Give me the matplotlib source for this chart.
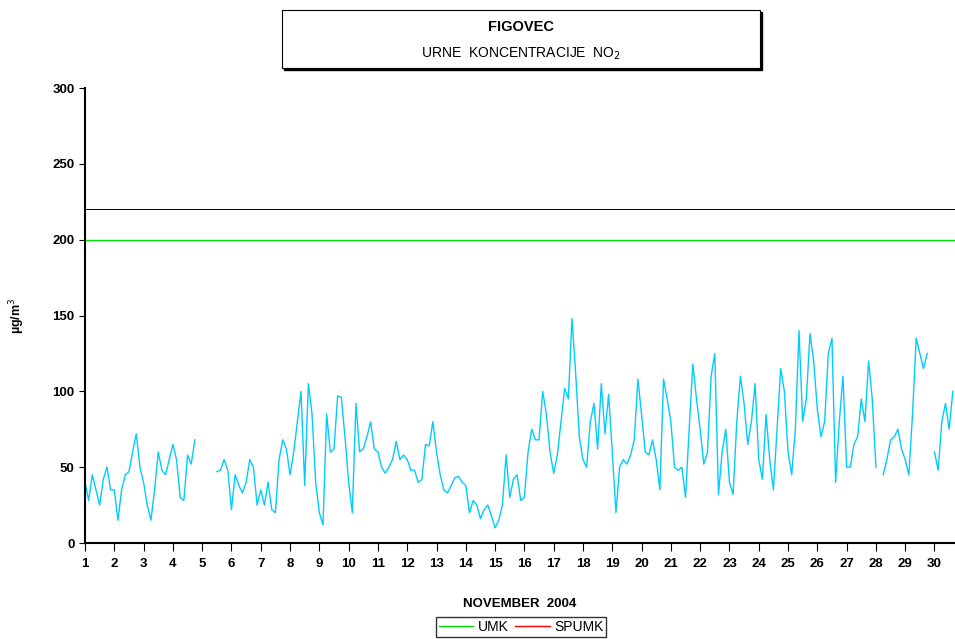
import numpy as np
import matplotlib.pyplot as plt
from matplotlib.lines import Line2D
from matplotlib.patches import Rectangle

plt.rcParams['font.family'] = ['Liberation Sans', 'DejaVu Sans']

nan = np.nan
# hourly NO2, read every 3 hours (8 per day), November 2004
no2 = [
    40, 28, 45, 35, 25, 42, 50, 35,        # 1
    35, 15, 35, 45, 47, 60, 72, 50,        # 2
    40, 25, 15, 35, 60, 48, 45, 55,        # 3
    65, 55, 30, 28, 58, 52, 68, nan,       # 4
    nan, nan, nan, nan, 47, 48, 55, 48,    # 5
    22, 45, 38, 33, 40, 55, 50, 25,        # 6
    35, 25, 40, 22, 20, 55, 68, 62,        # 7
    45, 60, 80, 100, 38, 105, 85, 40,      # 8
    20, 12, 85, 60, 62, 97, 96, 70,        # 9
    40, 20, 92, 60, 62, 70, 80, 62,        # 10
    60, 50, 46, 50, 55, 67, 55, 58,        # 11
    55, 48, 48, 40, 42, 65, 64, 80,        # 12
    60, 45, 35, 33, 38, 43, 44, 40,        # 13
    38, 20, 28, 25, 16, 22, 25, 18,        # 14
    10, 15, 25, 58, 30, 42, 45, 28,        # 15
    30, 60, 75, 68, 68, 100, 85, 60,       # 16
    46, 58, 80, 102, 95, 148, 112, 70,     # 17
    55, 50, 80, 92, 62, 105, 72, 98,       # 18
    60, 20, 50, 55, 52, 58, 68, 108,       # 19
    85, 60, 58, 68, 55, 35, 108, 95,       # 20
    80, 50, 48, 50, 30, 75, 118, 95,       # 21
    75, 52, 60, 110, 125, 32, 60, 75,      # 22
    40, 32, 80, 110, 92, 65, 80, 105,      # 23
    55, 42, 85, 55, 35, 75, 115, 100,      # 24
    60, 45, 75, 140, 80, 95, 138, 120,     # 25
    88, 70, 80, 125, 135, 40, 80, 110,     # 26
    50, 50, 65, 70, 95, 80, 120, 95,       # 27
    50, nan, 45, 55, 68, 70, 75, 62,       # 28
    55, 45, 85, 135, 125, 115, 125, nan,   # 29
    60, 48, 80, 92, 75, 100,               # 30
]
days = 1 + np.arange(len(no2)) * 0.125
umk = 200
spumk = 220

fig = plt.figure(figsize=(9.55, 6.39), dpi=100)
ax = fig.add_axes([85/955, 1 - 543/639, 870/955, 455/639])
ax.plot(days, no2, color='#00ccff', lw=1.0)
ax.axhline(umk, color='#00dd00', lw=1.0)
ax.axhline(spumk, color='black', lw=0.7)
ax.set_xlim(1, 30.7)
ax.set_ylim(0, 300)
ax.set_xticks(range(1, 31))
ax.set_yticks(range(0, 301, 50))
for s in ['top', 'right']:
    ax.spines[s].set_visible(False)
ax.spines['left'].set_linewidth(1.5)
ax.spines['bottom'].set_linewidth(1.5)
ax.tick_params(axis='x', direction='out', length=6, labelsize=9.5, pad=5)
ax.tick_params(axis='y', direction='out', length=4, labelsize=9.5)
for lb in ax.get_xticklabels() + ax.get_yticklabels():
    lb.set_fontweight('bold')
ax.set_ylabel('µg/m$^3$', fontsize=9, fontweight='bold', labelpad=18)
ax.set_xlabel('NOVEMBER  2004', fontsize=9.5, fontweight='bold', labelpad=20)

# title box with shadow
fig.patches.append(Rectangle((284/955, 1 - 70/639), 478/955, 58/639, transform=fig.transFigure,
                             facecolor='black', edgecolor='black'))
fig.patches.append(Rectangle((282/955, 1 - 68/639), 478/955, 58/639, transform=fig.transFigure,
                             facecolor='white', edgecolor='black', lw=0.8))
fig.text(521/955, 1 - 27/639, 'FIGOVEC', ha='center', va='center', fontsize=10.5, fontweight='bold')
fig.text(521/955, 1 - 54/639, 'URNE  KONCENTRACIJE  NO$_2$', ha='center', va='center', fontsize=10)

handles = [Line2D([], [], color='#00dd00', lw=1), Line2D([], [], color='red', lw=1)]
fig.legend(handles, ['UMK', 'SPUMK'], loc='center', bbox_to_anchor=(521/955, 1 - 627/639),
           ncol=2, frameon=True, fancybox=False, edgecolor='black', fontsize=10,
           handlelength=2.5, columnspacing=0.5, handletextpad=0.3, borderpad=0.2)
fig.savefig('out.png')
